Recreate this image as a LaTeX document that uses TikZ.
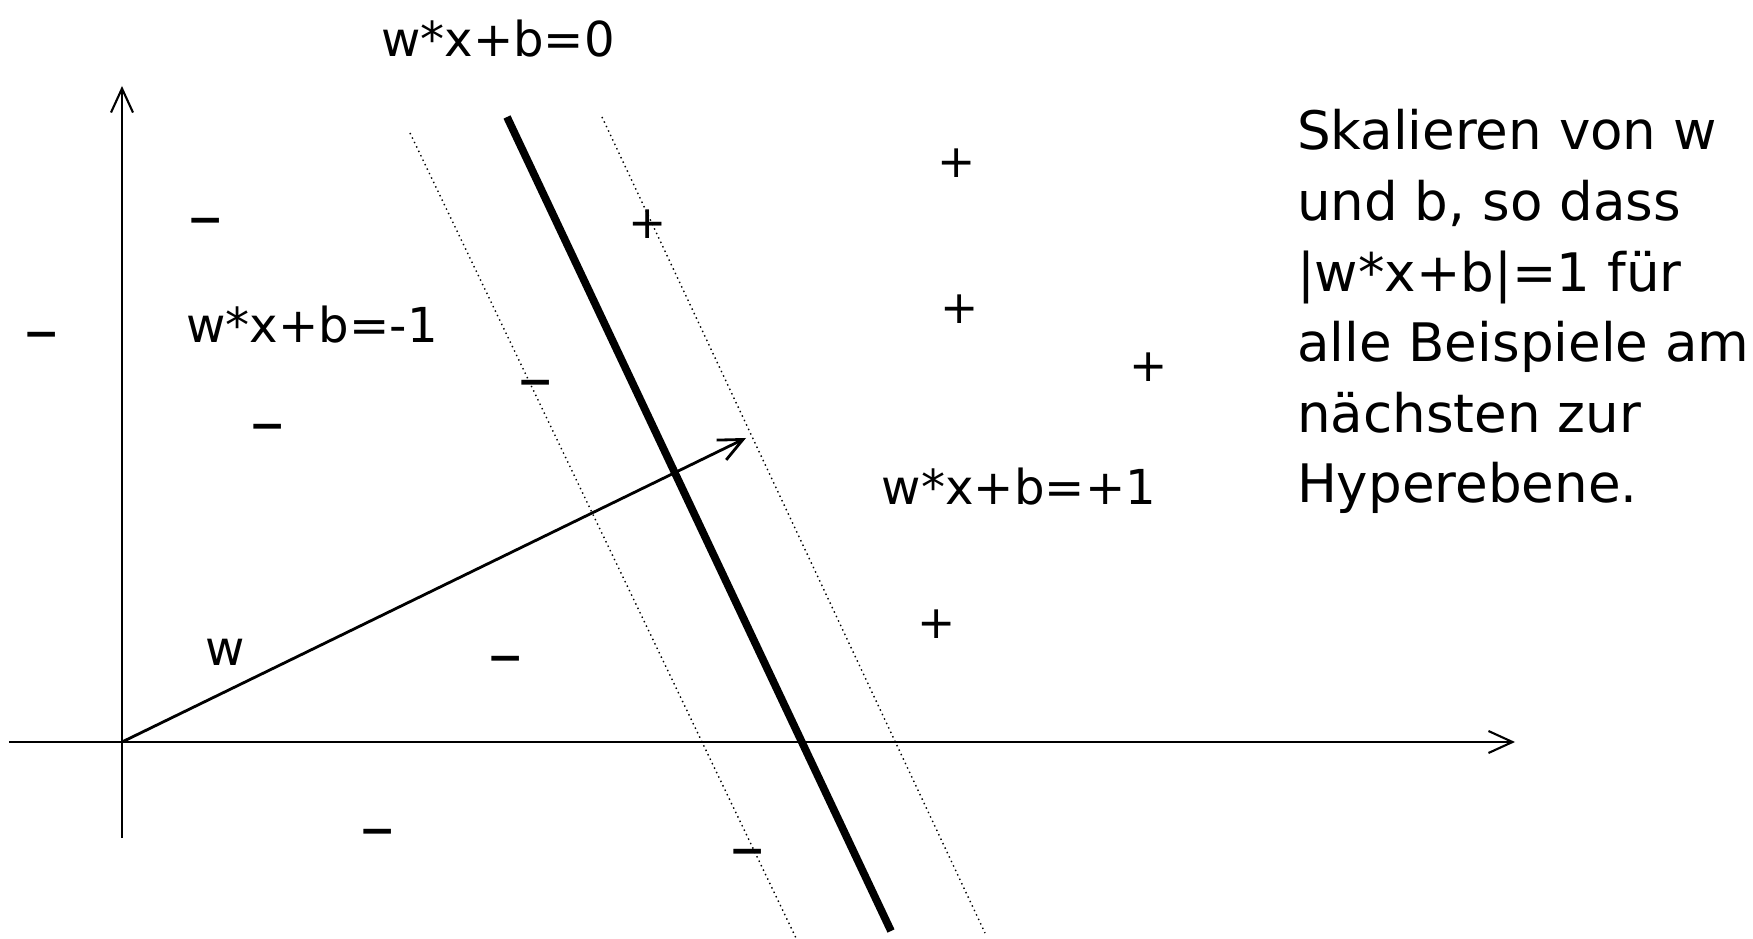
\documentclass[tikz,border=0pt]{standalone}
\usepackage{fontspec}
\setmainfont{DejaVu Sans}
\usetikzlibrary{arrows.meta}

\begin{document}
\begin{tikzpicture}[>={Straight Barb[length=2.4mm, width=2.2mm]}, line width=0.6pt,
    lbl/.style={font=\fontsize{13.7}{16}\selectfont, inner sep=0pt, anchor=base},
    plusmk/.style={font=\fontsize{13}{14}\selectfont, inner sep=0pt, anchor=base, yshift=-1.5mm},
    minusmk/.style={font=\fontsize{19.5}{20}\selectfont, inner sep=0pt, anchor=base, yshift=-1.9mm},
    margin/.style={densely dotted, line width=0.4pt}]
    \useasboundingbox (0,0) rectangle (17.53,9.38);

    % Achsen
    \coordinate (O) at (1.22,1.96);
    \coordinate (xl) at (0.09,1.96);
    \coordinate (xr) at (15.15,1.96);
    \coordinate (yb) at (1.22,1.00);
    \coordinate (yt) at (1.22,8.52);
    \draw[->] (xl) -- (xr);
    \draw[->] (yb) -- (yt);

    % Hyperebene und Randlinien
    \coordinate (H1) at (5.07,8.21);
    \coordinate (H2) at (8.91,0.07);
    \coordinate (L1) at (4.10,8.05);
    \coordinate (L2) at (7.96,0.00);
    \coordinate (R1) at (6.02,8.21);
    \coordinate (R2) at (9.85,0.05);
    \draw[line width=2.2pt] (H1) -- (H2);
    \draw[margin] (L1) -- (L2);
    \draw[margin] (R1) -- (R2);

    % Normalenvektor w
    \coordinate (W) at (7.46,5.00);
    \draw[->, line width=0.8pt] (O) -- (W);
    \node[lbl] (wlab) at (2.25,2.73) {w};

    % Beschriftungen
    \node[lbl] (h0) at (4.98,8.81) {w*x+b=0};
    \node[lbl] (hm) at (3.12,5.95) {w*x+b=-1};
    \node[lbl] (hp) at (10.19,4.33) {w*x+b=+1};

    % positive Beispiele
    \foreach \x/\y [count=\i] in {9.57/7.75, 6.48/7.14, 9.60/6.29, 11.49/5.71, 9.37/3.15} {
        \node[plusmk] (p\i) at (\x,\y) {+};
    }

    % negative Beispiele
    \foreach \x/\y [count=\i] in {2.06/7.17, 0.42/6.03, 5.36/5.55, 2.68/5.11, 5.06/2.80, 3.78/1.07, 7.48/0.87} {
        \node[minusmk] (m\i) at (\x,\y) {–};
    }

    % Erklaerung
    \node[font=\fontsize{15.1}{20.1}\selectfont, align=left, anchor=base west, inner sep=0pt] (txt) at (12.96,4.35)
        {Skalieren von w\\und b, so dass\\|w*x+b|=1 für\\alle Beispiele am\\nächsten zur\\Hyperebene.};
\end{tikzpicture}
\end{document}
